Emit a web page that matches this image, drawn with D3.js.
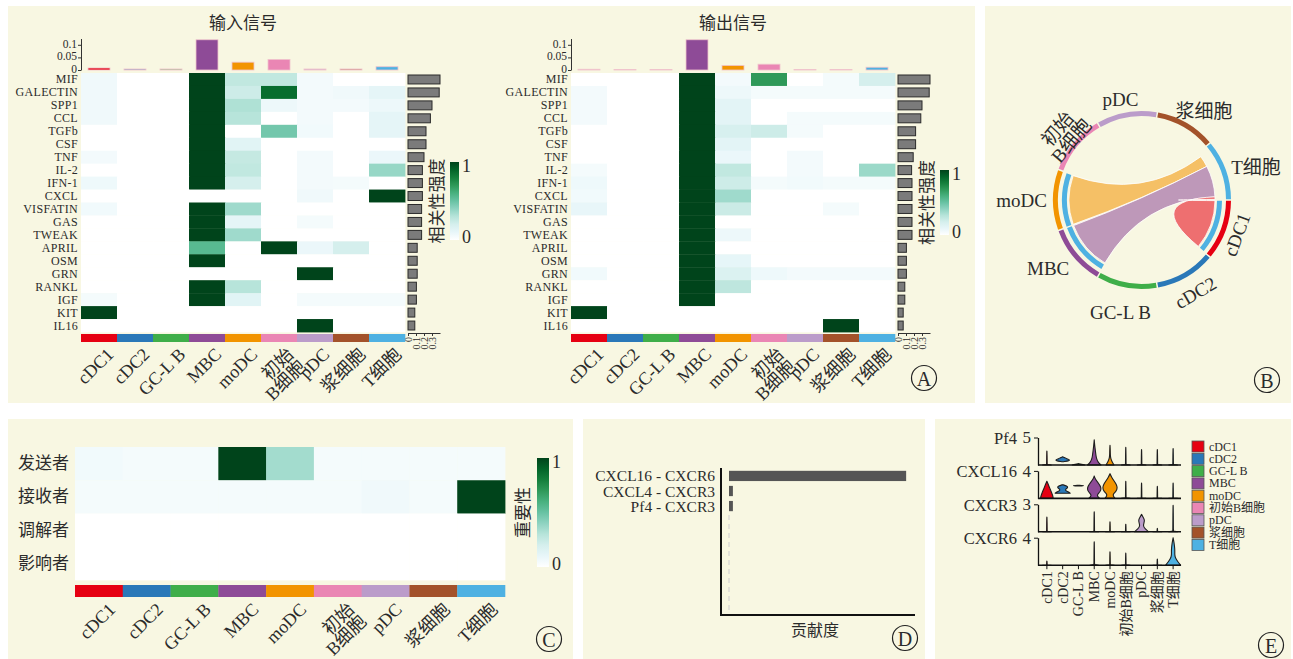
<!DOCTYPE html>
<html>
<head>
<meta charset="utf-8">
<script src="https://cdn.jsdelivr.net/npm/d3@7"></script>
<style>
  body { margin: 0; background: #fff; }
  svg { display: block; }
  text { font-family: 'Liberation Serif', 'Noto Sans CJK SC', serif; fill: #2b2b2b; }
</style>
</head>
<body>
<svg id="fig" width="1293" height="659"></svg>
<script>
// ---------------- data ----------------
const cellTypes = ['cDC1', 'cDC2', 'GC-L B', 'MBC', 'moDC', '初始B细胞', 'pDC', '浆细胞', 'T细胞'];
const cellColors = ['#e60012', '#2a78b8', '#3fae49', '#8e4b97', '#f29400', '#ea86b4', '#bb9cca', '#a3522a', '#4eb1e2'];

const pathways = ['MIF', 'GALECTIN', 'SPP1', 'CCL', 'TGFb', 'CSF', 'TNF', 'IL-2', 'IFN-1', 'CXCL',
  'VISFATIN', 'GAS', 'TWEAK', 'APRIL', 'OSM', 'GRN', 'RANKL', 'IGF', 'KIT', 'IL16'];

// incoming (receiver) signalling strength, rows = pathways, cols = cell types
const incomingStrength = [
  [0.05, 0, 0, 1, 0.27, 0.27, 0.03, 0, 0],
  [0.05, 0, 0, 1, 0.23, 0.87, 0.03, 0.05, 0.12],
  [0.05, 0, 0, 1, 0.32, 0.07, 0.03, 0.03, 0.07],
  [0.05, 0, 0, 1, 0.30, 0, 0.03, 0, 0.12],
  [0, 0, 0, 1, 0, 0.47, 0.04, 0, 0.12],
  [0, 0, 0, 1, 0.14, 0, 0, 0, 0],
  [0.03, 0, 0, 1, 0.26, 0, 0.03, 0, 0.08],
  [0, 0, 0, 1, 0.27, 0, 0.03, 0, 0.38],
  [0.06, 0, 0, 1, 0.20, 0, 0.03, 0.02, 0],
  [0, 0, 0, 0, 0, 0, 0.05, 0, 1],
  [0.04, 0, 0, 1, 0.36, 0, 0, 0, 0],
  [0, 0, 0, 1, 0.12, 0, 0.02, 0, 0],
  [0, 0, 0, 1, 0.36, 0, 0, 0, 0],
  [0, 0, 0, 0.55, 0, 1, 0.08, 0.20, 0],
  [0, 0, 0, 1, 0, 0, 0, 0, 0],
  [0, 0, 0, 0, 0, 0, 1, 0, 0],
  [0, 0, 0, 1, 0.30, 0, 0, 0, 0],
  [0.02, 0, 0, 1, 0.14, 0, 0.02, 0.02, 0.02],
  [1, 0, 0, 0, 0, 0, 0, 0, 0],
  [0, 0, 0, 0, 0, 0, 1, 0, 0]
];

// outgoing (sender) signalling strength
const outgoingStrength = [
  [0, 0, 0, 1, 0.03, 0.70, 0, 0.02, 0.20],
  [0.03, 0, 0, 1, 0.07, 0.02, 0.02, 0.02, 0.02],
  [0.03, 0, 0, 1, 0.13, 0, 0, 0, 0],
  [0.03, 0, 0, 1, 0.13, 0, 0.02, 0.02, 0.02],
  [0, 0, 0, 1, 0.19, 0.23, 0.02, 0, 0],
  [0, 0, 0, 1, 0.13, 0, 0, 0, 0],
  [0, 0, 0, 1, 0.08, 0, 0.03, 0, 0],
  [0.02, 0, 0, 1, 0.27, 0, 0.03, 0, 0.37],
  [0.06, 0, 0, 1, 0.23, 0.02, 0.04, 0.02, 0.02],
  [0.04, 0, 0, 1, 0.36, 0, 0, 0, 0],
  [0.10, 0, 0, 1, 0.24, 0, 0, 0.02, 0],
  [0, 0, 0, 1, 0, 0, 0, 0, 0],
  [0, 0, 0, 1, 0.07, 0, 0, 0, 0],
  [0, 0, 0, 1, 0, 0, 0, 0, 0],
  [0, 0, 0, 1, 0.11, 0, 0, 0, 0],
  [0.04, 0, 0, 1, 0.17, 0.06, 0.03, 0.03, 0.03],
  [0, 0, 0, 1, 0.28, 0, 0, 0, 0],
  [0, 0, 0, 1, 0, 0, 0, 0, 0],
  [1, 0, 0, 0, 0, 0, 0, 0, 0],
  [0, 0, 0, 0, 0, 0, 0, 1, 0]
];

// column totals (bars above each heatmap)
const incomingCellTotals = [0.008, 0.004, 0.004, 0.12, 0.031, 0.042, 0.004, 0.004, 0.013];
const outgoingCellTotals = [0.003, 0.002, 0.002, 0.12, 0.018, 0.023, 0.002, 0.002, 0.011];

// row totals (bars right of each heatmap)
const incomingPathwayTotals = [0.40, 0.39, 0.30, 0.28, 0.225, 0.225, 0.20, 0.18, 0.18, 0.18,
  0.17, 0.17, 0.17, 0.115, 0.115, 0.115, 0.105, 0.105, 0.085, 0.085];
const outgoingPathwayTotals = [0.40, 0.39, 0.30, 0.285, 0.22, 0.22, 0.19, 0.17, 0.175, 0.175,
  0.175, 0.175, 0.175, 0.105, 0.105, 0.105, 0.085, 0.085, 0.065, 0.065];
const barTicks = [0, 0.1, 0.2, 0.3];
const totalTicks = [0, 0.05, 0.1];

// chord links towards T cells (weight sets the width at the target end)
const chordLinks = [
  { source: 'moDC', target: 'T细胞', weight: 9 },
  { source: 'MBC', target: 'T细胞', weight: 25 },
  { source: 'cDC1', target: 'T细胞', weight: 2 }
];

// network centrality roles
const roles = ['发送者', '接收者', '调解者', '影响者'];
const roleImportance = [
  [0.04, 0.02, 0.02, 1, 0.35, 0.02, 0.02, 0.02, 0.02],
  [0.02, 0.02, 0.02, 0.02, 0.02, 0.02, 0.05, 0.02, 1],
  [0, 0, 0, 0, 0, 0, 0, 0, 0],
  [0, 0, 0, 0, 0, 0, 0, 0, 0]
];

// ligand-receptor pair contribution
const lrPairs = ['CXCL16 - CXCR6', 'CXCL4 - CXCR3', 'Pf4 - CXCR3'];
const lrContribution = [1, 0.022, 0.022];

// gene expression violins: top = highest expression, lo = lowest,
// w = half-width profile (share of band) at evenly spaced levels; no w = thin spike
const genes = ['Pf4', 'CXCL16', 'CXCR3', 'CXCR6'];
const geneAxisMax = [5, 4, 3, 4];
const violins = {
  Pf4: [
    { top: 2.55 },
    { lo: 0.6, top: 1.5, w: [0.1, 0.9, 0.85, 0.5, 0.3, 0] },
    { top: 0.25, w: [0.8, 0.4, 0] },
    { top: 4.6, w: [0.85, 0.45, 0.3, 0.22, 0.17, 0.12, 0.07, 0.03, 0] },
    { top: 3.6, w: [0.5, 0.2, 0.05, 0.04, 0.03, 0] },
    { top: 3.2 }, { top: 2.8 }, { top: 2.8 }, { top: 3.0 }
  ],
  CXCL16: [
    { top: 2.5, w: [0.8, 0.75, 0.6, 0.45, 0.3, 0.15, 0] },
    { lo: 0.75, top: 2.0, w: [0.95, 0.7, 0.3, 0.4, 0.7, 0.55, 0] },
    { lo: 1.8, top: 1.9, w: [0, 0.95, 0] },
    { top: 3.25, w: [0.7, 0.25, 0.75, 0.9, 0.75, 0.45, 0.15, 0] },
    { top: 3.6, w: [0.65, 0.25, 0.8, 0.95, 0.8, 0.5, 0.2, 0] },
    { top: 2.5 }, { top: 2.25 }, { top: 1.75 }, { top: 2.25 }
  ],
  CXCR3: [
    { top: 1.6 }, null, null, { top: 2.17 }, { top: 1.08 }, { top: 0.83 },
    { top: 1.9, w: [0.9, 0.45, 0.2, 0.3, 0.4, 0.2, 0] }, { top: 0.37 }, { top: 2.9 }
  ],
  CXCR6: [
    { top: 0.6 }, null, null, { top: 3.4 }, { top: 1.95 }, { top: 1.75 }, null, { top: 0.9 },
    { top: 4.0, w: [0.95, 0.6, 0.3, 0.2, 0.22, 0.2, 0.15, 0.08, 0] }
  ]
};
// spike outline: [share of height, half-width share]
const spikeProfile = [[0, 0.55], [0.03, 0.05], [0.1, 0.035], [0.6, 0.025], [0.95, 0.01], [1, 0]];

// ---------------- setup ----------------
const svg = d3.select('#fig');
const colorOf = d3.scaleOrdinal(cellTypes, cellColors);
const bugn = d3.scaleSequential(d3.interpolateBuGn).domain([0, 1]);
const heat = v => v <= 0 ? '#ffffff' : bugn(v);
const fmt = d3.format('~g');
const splitLabel = d => d === '初始B细胞' ? ['初始', 'B细胞'] : [d];
const PANEL_BG = '#f8f7e2';

const defs = svg.append('defs');
const grad = defs.append('linearGradient').attr('id', 'bugnV')
  .attr('x1', 0).attr('y1', 1).attr('x2', 0).attr('y2', 0);
d3.range(0, 1.0001, 0.1).forEach(t =>
  grad.append('stop').attr('offset', t).attr('stop-color', t === 0 ? '#ffffff' : bugn(t)));

// panel backgrounds
const panels = [
  { id: 'A', x: 8, y: 6, w: 967, h: 397, badge: [924, 378] },
  { id: 'B', x: 985, y: 6, w: 306, h: 397, badge: [1267, 380] },
  { id: 'C', x: 8, y: 419, w: 565, h: 240, badge: [549, 639] },
  { id: 'D', x: 583, y: 419, w: 342, h: 240, badge: [905, 638] },
  { id: 'E', x: 935, y: 419, w: 356, h: 240, badge: [1271, 645] }
];
svg.selectAll('rect.panel').data(panels).join('rect').attr('class', 'panel')
  .attr('x', d => d.x).attr('y', d => d.y).attr('width', d => d.w).attr('height', d => d.h)
  .attr('fill', PANEL_BG);

function rotatedLabels(g, x, y0, dx, size) {
  g.selectAll(null).data(cellTypes).join('text')
    .attr('transform', d => `translate(${x(d) + x.bandwidth() / 2 + dx},${y0}) rotate(-45)`)
    .attr('text-anchor', 'end')
    .style('font-size', size + 'px')
    .each(function (d) {
      const t = d3.select(this);
      splitLabel(d).forEach((ln, i) =>
        t.append('tspan').attr('x', 0).attr('dy', i === 0 ? '0.75em' : '0.95em').text(ln));
    });
}

function colorbar(g, x, y, w, h, title, titleX, labelSize, titleSize) {
  g.append('rect').attr('x', x).attr('y', y).attr('width', w).attr('height', h)
    .attr('fill', 'url(#bugnV)');
  const s = d3.scaleLinear([0, 1], [y + h - 3, y + 4]);
  g.selectAll(null).data([0, 1]).join('text')
    .attr('x', x + w + 3).attr('y', d => s(d))
    .attr('dominant-baseline', 'central')
    .style('font-size', labelSize + 'px').text(d => d);
  g.append('text')
    .attr('transform', `translate(${titleX},${y + h / 2}) rotate(-90)`)
    .attr('text-anchor', 'middle').attr('dominant-baseline', 'central')
    .style('font-size', titleSize + 'px').text(title);
}

// ---------------- panel A: signalling heatmaps ----------------
function signalHeatmap(opt) {
  const g = svg.append('g');
  const x = d3.scaleBand(cellTypes, [opt.x0, opt.x0 + 324]);
  const y = d3.scaleBand(pathways, [73, 332]);

  const cells = pathways.flatMap((p, i) =>
    cellTypes.map((c, j) => ({ p, c, v: opt.matrix[i][j] })));
  g.selectAll(null).data(cells).join('rect')
    .attr('x', d => x(d.c)).attr('y', d => y(d.p))
    .attr('width', x.bandwidth() + 0.4).attr('height', y.bandwidth() + 0.4)
    .attr('fill', d => heat(d.v));

  g.append('text').attr('x', opt.x0 + 162).attr('y', 29)
    .attr('text-anchor', 'middle').style('font-size', '17px').text(opt.title);

  // row labels
  g.selectAll(null).data(pathways).join('text')
    .attr('x', opt.x0 - 3).attr('y', d => y(d) + y.bandwidth() / 2)
    .attr('text-anchor', 'end').attr('dominant-baseline', 'central')
    .style('font-size', '12px').style('letter-spacing', '0.3px').text(d => d);

  // column totals
  const yT = d3.scaleLinear([0, 0.125], [70, 38.5]);
  const ax = g.append('g').attr('transform', `translate(${opt.x0},0)`).attr('color', '#333')
    .call(d3.axisLeft(yT).tickValues(totalTicks).tickFormat(fmt).tickSize(3).tickSizeOuter(0).tickPadding(1));
  ax.selectAll('text').style('font-size', '11.5px').attr('dy', '0.2em');
  g.selectAll(null).data(cellTypes).join('rect')
    .attr('x', d => x(d) + (x.bandwidth() - 22) / 2)
    .attr('y', (d, i) => yT(opt.cellTotals[i]))
    .attr('width', 22)
    .attr('height', (d, i) => yT(0) - yT(opt.cellTotals[i]))
    .attr('fill', d => colorOf(d)).attr('stroke', '#f0c4cc').attr('stroke-width', 0.8);

  // row totals
  const xs = d3.scaleLinear([0, 0.4], [opt.x0 + 327, opt.x0 + 359]);
  g.selectAll(null).data(pathways).join('rect')
    .attr('x', xs(0)).attr('y', d => y(d) + 2)
    .attr('width', (d, i) => xs(opt.pathwayTotals[i]) - xs(0))
    .attr('height', y.bandwidth() - 4)
    .attr('fill', '#7b7b7b').attr('stroke', '#2b2b2b').attr('stroke-width', 1);
  const bx = g.append('g').attr('transform', 'translate(0,333)').attr('color', '#333')
    .call(d3.axisBottom(xs).tickValues(barTicks).tickFormat(fmt).tickSize(3).tickSizeOuter(0));
  bx.selectAll('text').attr('transform', 'rotate(-90)').attr('text-anchor', 'end')
    .attr('x', -4).attr('y', 0).attr('dy', '0.35em').style('font-size', '10px');

  // cell-type strip and labels
  g.selectAll(null).data(cellTypes).join('rect')
    .attr('x', d => x(d)).attr('y', 334).attr('width', x.bandwidth() + 0.3).attr('height', 8)
    .attr('fill', d => colorOf(d));
  rotatedLabels(g, x, 346, 6, 18);

  colorbar(g, opt.cb.x, opt.cb.y, 9, opt.cb.h, '相关性强度', opt.cb.x - 13, 18, 17);
}

signalHeatmap({ x0: 81, title: '输入信号', matrix: incomingStrength,
  cellTotals: incomingCellTotals, pathwayTotals: incomingPathwayTotals,
  cb: { x: 450, y: 162, h: 78 } });
signalHeatmap({ x0: 571, title: '输出信号', matrix: outgoingStrength,
  cellTotals: outgoingCellTotals, pathwayTotals: outgoingPathwayTotals,
  cb: { x: 940, y: 170, h: 65 } });

// ---------------- panel B: chord diagram ----------------
{
  const cx = 1142, cy = 200;
  const g = svg.append('g').attr('transform', `translate(${cx},${cy})`);
  const rad = Math.PI / 180;
  const step = 360 / cellTypes.length, pad = 0.5;
  const sector = c => {
    const i = cellTypes.indexOf(c);
    return { start: (90 + step * i + pad) * rad, end: (90 + step * (i + 1) - pad) * rad };
  };

  const outer = d3.arc().innerRadius(84).outerRadius(89);
  g.selectAll(null).data(cellTypes).join('path')
    .attr('d', c => outer({ startAngle: sector(c).start, endAngle: sector(c).end }))
    .attr('fill', c => colorOf(c));

  // target allocation: pack links against the end of the target sector
  const byTarget = d3.group(chordLinks, d => d.target);
  const ribbons = [];
  byTarget.forEach((links, tgt) => {
    const ts = sector(tgt);
    const total = d3.sum(links, d => d.weight);
    const span = (ts.end - ts.start) * 0.92;
    const unit = span / total;
    let a = ts.end - span;
    links.slice().sort((p, q) => cellTypes.indexOf(q.source) - cellTypes.indexOf(p.source))
      .forEach(l => {
        const ss = sector(l.source);
        ribbons.push({
          link: l,
          source: { startAngle: ss.start, endAngle: ss.end },
          target: { startAngle: a, endAngle: a + l.weight * unit }
        });
        a += l.weight * unit;
      });
  });

  const inner = d3.arc().innerRadius(75).outerRadius(80);
  g.selectAll(null).data(ribbons).join('path')
    .attr('d', d => inner({ startAngle: d.source.startAngle, endAngle: d.source.endAngle }))
    .attr('fill', d => colorOf(d.link.target));

  const ribbon = d3.ribbon().radius(73);
  g.selectAll(null).data(ribbons).join('path')
    .attr('d', ribbon)
    .attr('fill', d => colorOf(d.link.source)).attr('fill-opacity', 0.55)
    .attr('stroke', '#fff').attr('stroke-width', 0.8);

  // labels
  const tangent = new Set(['cDC1', 'cDC2', '初始B细胞']);
  cellTypes.forEach(c => {
    const s = sector(c);
    const mid = (s.start + s.end) / 2;
    const sn = Math.sin(mid), cs = Math.cos(mid);
    const lines = splitLabel(c);
    if (tangent.has(c)) {
      const r = c === 'cDC2' ? 107 : 101;
      let rot = mid / rad;
      while (rot > 90) rot -= 180;
      while (rot < -90) rot += 180;
      const t = g.append('text')
        .attr('transform', `translate(${r * sn},${-r * cs}) rotate(${rot})`)
        .attr('text-anchor', 'middle').style('font-size', '19px');
      lines.forEach((ln, i) => t.append('tspan').attr('x', 0)
        .attr('dy', i === 0 ? (lines.length === 1 ? '0.35em' : '-0.15em') : '0.95em').text(ln));
    } else {
      const anchor = sn > 0.6 ? 'start' : sn < -0.6 ? 'end' : 'middle';
      const r = anchor === 'middle' ? 102 : 95;
      const drop = cs < 0 ? -cs * 12 : 0;
      const shift = anchor === 'middle' ? sn * 22 : 0;
      g.append('text').attr('x', r * sn + shift).attr('y', -r * cs + drop)
        .attr('text-anchor', anchor).attr('dominant-baseline', 'central')
        .style('font-size', '19px').text(c);
    }
  });
}

// ---------------- panel C: centrality roles ----------------
{
  const g = svg.append('g');
  const x = d3.scaleBand(cellTypes, [75, 505]);
  const y = d3.scaleBand(roles, [447, 580]);
  const cells = roles.flatMap((r, i) => cellTypes.map((c, j) => ({ r, c, v: roleImportance[i][j] })));
  g.selectAll(null).data(cells).join('rect')
    .attr('x', d => x(d.c)).attr('y', d => y(d.r))
    .attr('width', x.bandwidth() + 0.4).attr('height', y.bandwidth() + 0.4)
    .attr('fill', d => heat(d.v));
  g.selectAll(null).data(roles).join('text')
    .attr('x', 69).attr('y', d => y(d) + y.bandwidth() / 2)
    .attr('text-anchor', 'end').attr('dominant-baseline', 'central')
    .style('font-size', '17px').text(d => d);
  g.selectAll(null).data(cellTypes).join('rect')
    .attr('x', d => x(d)).attr('y', 585).attr('width', x.bandwidth() + 0.3).attr('height', 12)
    .attr('fill', d => colorOf(d));
  rotatedLabels(g, x, 601, 8, 18);
  colorbar(g, 537, 458, 12, 109, '重要性', 523, 18, 17);
}

// ---------------- panel D: ligand-receptor contribution ----------------
{
  const g = svg.append('g');
  const x = d3.scaleLinear([0, 1.05], [729, 915]);
  const y = d3.scaleBand(lrPairs, [466, 516]).padding(0.32);
  g.append('line').attr('x1', x(0)).attr('x2', x(0)).attr('y1', 515).attr('y2', 612)
    .attr('stroke', '#dcdcd6').attr('stroke-width', 1.5).attr('stroke-dasharray', '5,4');
  g.selectAll(null).data(lrPairs).join('rect')
    .attr('x', x(0)).attr('y', d => y(d))
    .attr('width', (d, i) => x(lrContribution[i]) - x(0)).attr('height', y.bandwidth())
    .attr('fill', '#555555');
  g.selectAll(null).data(lrPairs).join('text')
    .attr('x', 715).attr('y', d => y(d) + y.bandwidth() / 2)
    .attr('text-anchor', 'end').attr('dominant-baseline', 'central')
    .style('font-size', '15.5px').text(d => d);
  g.append('path').attr('d', 'M721,468V615H915').attr('fill', 'none')
    .attr('stroke', '#111').attr('stroke-width', 2);
  g.append('text').attr('x', 815).attr('y', 636).attr('text-anchor', 'middle')
    .style('font-size', '16px').text('贡献度');
}

// ---------------- panel E: stacked violins ----------------
{
  const g = svg.append('g');
  const x = d3.scaleBand(cellTypes, [1039, 1181]);
  const hw = x.bandwidth() / 2;
  genes.forEach((gene, gi) => {
    const base = 465 + gi * 33.4;
    const y = d3.scaleLinear([0, geneAxisMax[gi]], [base, base - 27.5]);
    violins[gene].forEach((vd, ci) => {
      if (!vd) return;
      const c = cellTypes[ci];
      const cxm = x(c) + hw;
      const lo = vd.lo || 0;
      let pts, curve;
      if (vd.w) {
        pts = vd.w.map((wi, k) => ({ v: lo + (vd.top - lo) * k / (vd.w.length - 1), w: wi }));
        curve = d3.curveBasis;
      } else {
        pts = spikeProfile.map(([f, wi]) => ({ v: lo + (vd.top - lo) * f, w: wi }));
        curve = d3.curveLinear;
      }
      const area = d3.area().curve(curve)
        .y(d => y(d.v)).x0(d => cxm - d.w * hw).x1(d => cxm + d.w * hw);
      g.append('path').attr('d', area(pts))
        .attr('fill', colorOf(c)).attr('stroke', '#1e1e1e').attr('stroke-width', 1.1)
        .attr('stroke-linejoin', 'round');
    });
    g.append('line').attr('x1', 1038).attr('x2', 1181).attr('y1', base).attr('y2', base)
      .attr('stroke', '#111').attr('stroke-width', 1.6);
    const ax = g.append('g').attr('transform', 'translate(1038,0)').attr('color', '#111')
      .call(d3.axisLeft(y).tickValues([geneAxisMax[gi]]).tickFormat(fmt)
        .tickSize(4).tickSizeOuter(0).tickPadding(3));
    ax.select('.domain').attr('stroke-width', 1.3);
    ax.selectAll('text').style('font-size', '17px');
    g.append('text').attr('x', 1017).attr('y', y(geneAxisMax[gi]) + 1)
      .attr('text-anchor', 'end').attr('dominant-baseline', 'central')
      .style('font-size', '16.5px').text(gene);
  });
  const xa = g.append('g').attr('transform', 'translate(0,565.2)').attr('color', '#111')
    .call(d3.axisBottom(x).tickSize(4).tickSizeOuter(0).tickPadding(3));
  xa.select('.domain').remove();
  xa.selectAll('text').attr('transform', 'rotate(-90)').attr('text-anchor', 'end')
    .attr('x', -6).attr('y', 0).attr('dy', '0.35em').style('font-size', '14px');

  // legend
  const lg = g.append('g');
  lg.selectAll(null).data(cellTypes).join('rect')
    .attr('x', 1192).attr('y', (d, i) => 441 + i * 12.3)
    .attr('width', 12).attr('height', 11)
    .attr('fill', d => colorOf(d)).attr('stroke', '#555').attr('stroke-width', 0.8);
  lg.selectAll(null).data(cellTypes).join('text')
    .attr('x', 1209).attr('y', (d, i) => 441 + i * 12.3 + 5.5)
    .attr('dominant-baseline', 'central').style('font-size', '12px').text(d => d);
}

// ---------------- panel badges ----------------
const badges = svg.selectAll('g.badge').data(panels).join('g').attr('class', 'badge')
  .attr('transform', d => `translate(${d.badge[0]},${d.badge[1]})`);
badges.append('circle').attr('r', 12.5).attr('fill', 'none').attr('stroke', '#222').attr('stroke-width', 1.2);
badges.append('text').attr('text-anchor', 'middle').attr('dominant-baseline', 'central')
  .attr('y', 1).style('font-size', '20px').text(d => d.id);
</script>
</body>
</html>
